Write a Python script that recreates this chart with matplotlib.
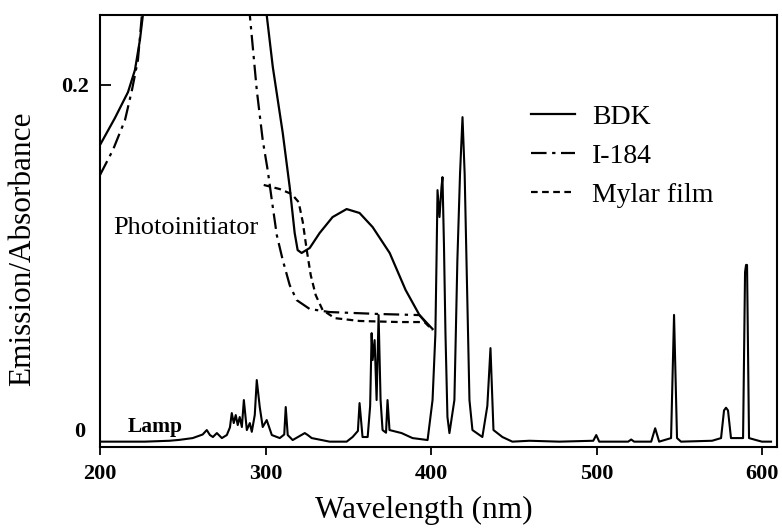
import matplotlib
matplotlib.use("Agg")
import matplotlib.pyplot as plt

plt.rcParams['font.family'] = ['Liberation Serif', 'DejaVu Serif']

# Absorbance of the photoinitiators and the Mylar film (wavelength in nm)
bdk_short_nm = [200, 209.0, 216.9, 221.1, 224.1, 225.9, 226.5]
bdk_short_abs = [0.1662, 0.1813, 0.1958, 0.2082, 0.2250, 0.2390, 0.2446]

i184_short_nm = [200, 207.8, 215.1, 219.3, 222.9, 225.3, 225.9]
i184_short_abs = [0.1494, 0.1634, 0.1802, 0.1970, 0.2138, 0.2390, 0.2446]

bdk_nm = [297.7, 300.7, 304.4, 310.4, 314.6, 317.6, 319.4, 321.8, 326.7,
          332.7, 340.5, 349.0, 356.8, 364.7, 375.0, 384.6, 393.0, 400.9]
bdk_abs = [0.2429, 0.2390, 0.2098, 0.1729, 0.1426, 0.1169, 0.1073, 0.1057,
           0.1085, 0.1169, 0.1258, 0.1303, 0.1281, 0.1202, 0.1057, 0.0850,
           0.0709, 0.0631]

i184_nm = [289.9, 290.5, 294.7, 298.3, 301.3, 303.8, 306.8, 310.4, 314.6,
           318.8, 326.7, 338.7, 368.9, 393.0, 399.1]
i184_abs = [0.2446, 0.2390, 0.1970, 0.1689, 0.1521, 0.1353, 0.1157, 0.1017,
            0.0877, 0.0793, 0.0743, 0.0726, 0.0715, 0.0709, 0.0642]

mylar_nm = [298.9, 308.6, 315.8, 320.0, 322.5, 324.9, 327.3, 330.3, 334.5,
            341.8, 356.8, 381.0, 396.0, 400.9]
mylar_abs = [0.1438, 0.1415, 0.1387, 0.1342, 0.1230, 0.1073, 0.0933, 0.0821,
             0.0737, 0.0692, 0.0676, 0.0670, 0.0670, 0.0625]

# Emission spectrum of the lamp
lamp_nm = [200, 227, 242, 248, 256, 262, 264.5, 266.4, 268.2, 270.6, 273.6,
           276.6, 278.5, 279.6, 280.8, 282.0, 283.2, 284.4, 285.7, 286.9,
           288.7, 290.5, 291.7, 293.5, 294.7, 296.5, 298.3, 300.7, 303.8,
           308.6, 311.3, 312.2, 313.4, 316.4, 323.7, 325.5, 327.9, 333.9,
           338.7, 349.0, 352.6, 355.8, 356.8, 358.6, 361.7, 363.2, 364.1,
           364.7, 365.9, 367.1, 368.3, 369.5, 370.7, 372.8, 373.7, 374.9,
           382.2, 388.8, 397.9, 400.9, 402.6, 403.3, 403.9, 405.1, 406.3,
           406.9, 407.8, 408.7, 409.9, 411.1, 414.1, 415.9, 417.5, 419.0,
           420.3, 421.4, 423.2, 425.0, 431.0, 434.0, 435.9, 437.7, 443.1,
           449.1, 459.4, 477.5, 498.0, 499.8, 501.6, 519.1, 520.9, 522.7,
           533.0, 535.4, 537.8, 545.0, 546.8, 548.6, 551.0, 569.8, 575.2,
           577.0, 578.2, 579.4, 581.2, 588.5, 589.7, 590.3, 590.9, 592.1,
           596.3, 599.9, 605.4]
lamp_em = [0.0, 0.0, 0.0005, 0.001, 0.002, 0.004, 0.0065, 0.0037, 0.0026,
           0.0048, 0.002, 0.0037, 0.008, 0.016, 0.0104, 0.0149, 0.0093,
           0.0138, 0.0082, 0.0233, 0.0065, 0.0104, 0.0055, 0.015, 0.0345,
           0.0194, 0.0082, 0.0121, 0.0037, 0.002, 0.004, 0.0194, 0.0037,
           0.0009, 0.0048, 0.0037, 0.002, 0.0009, 0.0, 0.0, 0.0026, 0.006,
           0.0216, 0.0026, 0.0026, 0.02, 0.0608, 0.0457, 0.0569, 0.0233,
           0.0709, 0.0233, 0.0065, 0.005, 0.0233, 0.0065, 0.0048, 0.002,
           0.0009, 0.0233, 0.060, 0.1017, 0.1409, 0.1258, 0.1426, 0.1482,
           0.110, 0.0608, 0.0138, 0.0048, 0.0233, 0.1017, 0.150, 0.1818,
           0.150, 0.1017, 0.0233, 0.0065, 0.0026, 0.02, 0.0524, 0.0065,
           0.0026, 0.0, 0.0005, 0.0, 0.0005, 0.0037, 0.0, 0.0, 0.0012, 0.0,
           0.0, 0.0075, 0.0, 0.002, 0.071, 0.002, 0.0, 0.0005, 0.002, 0.0175,
           0.019, 0.0175, 0.002, 0.002, 0.095, 0.099, 0.099, 0.002, 0.0009,
           0.0, 0.0]

x_ticks = [200, 300, 400, 500, 600]
y_ticks = [0.2]
y_tick_labels = ["0.2"]
zero_label = "0"

fig = plt.figure(figsize=(7.82, 5.29), dpi=100)
ax = fig.add_axes([0.1279, 0.155, 0.8657, 0.8166])

lw = 1.6
dashdot = (0, (7, 2.5, 1.5, 2.5))
dashed = (0, (3, 2))

ax.plot(bdk_nm, bdk_abs, color='black', lw=lw, label='BDK')
ax.plot(i184_nm, i184_abs, color='black', lw=lw, linestyle=dashdot, label='I-184')
ax.plot(mylar_nm, mylar_abs, color='black', lw=lw, linestyle=dashed, label='Mylar film')
ax.plot(bdk_short_nm, bdk_short_abs, color='black', lw=lw)
ax.plot(i184_short_nm, i184_short_abs, color='black', lw=lw, linestyle=dashdot)
ax.plot(lamp_nm, lamp_em, color='black', lw=1.5)

ax.set_xlim(200, 609)
ax.set_ylim(-0.003, 0.239)

ax.set_xticks(x_ticks)
ax.set_yticks(y_ticks)
ax.set_yticklabels(y_tick_labels)
ax.tick_params(axis='x', direction='out', length=6, width=1.3, pad=6,
               labelsize=16)
ax.tick_params(axis='y', direction='in', length=8, width=1.3, pad=8,
               labelsize=16)
for lab in ax.get_xticklabels() + ax.get_yticklabels():
    lab.set_fontweight('bold')

# the zero label sits slightly above the baseline
ax.text(-0.022, 0.0054, zero_label, transform=ax.get_yaxis_transform(),
        ha='right', va='center', fontsize=16, fontweight='bold')

for sp in ax.spines.values():
    sp.set_linewidth(1.5)

ax.set_xlabel('Wavelength (nm)', fontsize=22.5)
ax.xaxis.set_label_coords(0.479, -0.114)
ax.set_ylabel('Emission/Absorbance', fontsize=22.5)
ax.yaxis.set_label_coords(-0.0935, 0.458)

ax.text(207.8, 0.1197, 'Photoinitiator', fontsize=19, va='center', ha='left')
ax.text(216.9, 0.0082, 'Lamp', fontsize=15.5, fontweight='bold', va='center',
        ha='left')

leg = ax.legend(loc='upper left', bbox_to_anchor=(0.62, 0.818), frameon=False,
                fontsize=20, handlelength=1.6, handletextpad=0.6,
                labelspacing=0.48, borderaxespad=0)

fig.savefig('out.png', dpi=100)
